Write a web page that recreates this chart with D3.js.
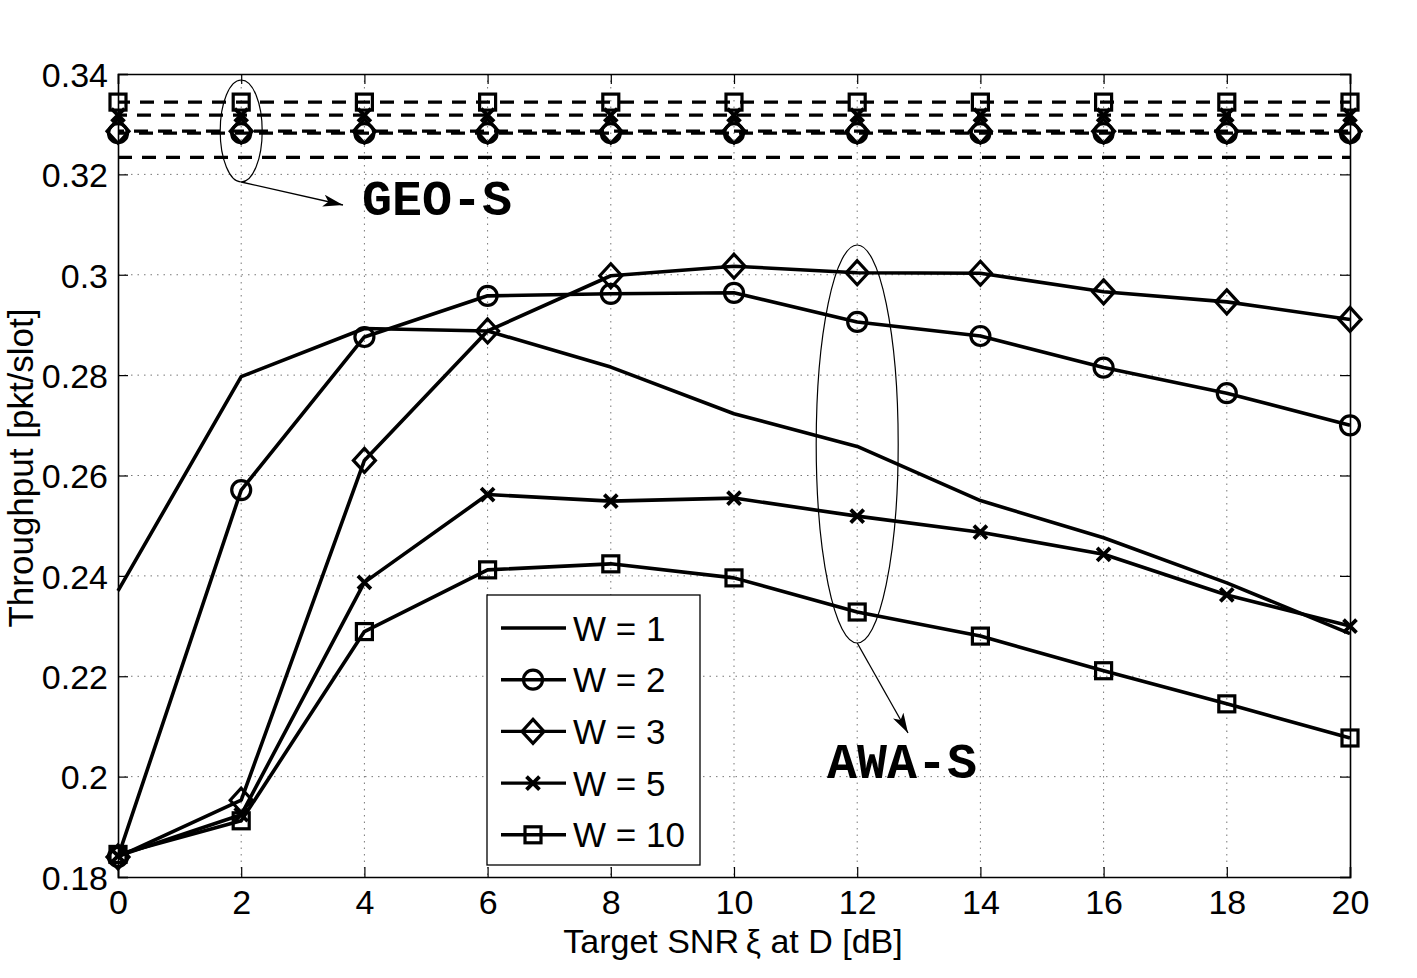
<!DOCTYPE html>
<html><head><meta charset="utf-8">
<script src="https://cdn.jsdelivr.net/npm/d3@7"></script>
<style>body{margin:0;background:#fff}svg{display:block}</style>
</head><body>
<svg id="c" width="1417" height="978"></svg>
<script>
const snr = [0,2,4,6,8,10,12,14,16,18,20];
const xTicks = [0,2,4,6,8,10,12,14,16,18,20];
const yTicks = [0.18,0.2,0.22,0.24,0.26,0.28,0.3,0.32,0.34];
const yTickLabels = ["0.18","0.2","0.22","0.24","0.26","0.28","0.3","0.32","0.34"];
const seriesNames = ["W = 1","W = 2","W = 3","W = 5","W = 10"];
const seriesMarkers = ["none","circle","diamond","x","square"];
const awaW1  = [0.2370,0.2797,0.2893,0.2888,0.2816,0.2723,0.2658,0.2550,0.2476,0.2386,0.2285];
const awaW2  = [0.1840,0.2571,0.2876,0.2958,0.2962,0.2964,0.2906,0.2878,0.2815,0.2764,0.2700];
const awaW3  = [0.1840,0.1953,0.2630,0.2888,0.2998,0.3017,0.3004,0.3003,0.2966,0.2946,0.2911];
const awaW5  = [0.1842,0.1924,0.2387,0.2562,0.2549,0.2555,0.2519,0.2487,0.2443,0.2362,0.2300];
const awaW10 = [0.1845,0.1912,0.2289,0.2412,0.2424,0.2396,0.2328,0.2280,0.2211,0.2145,0.2077];
const geoW1 = 0.3234, geoW2 = 0.3282, geoW3 = 0.3286, geoW5 = 0.3318, geoW10 = 0.3344;

const awa = [awaW1,awaW2,awaW3,awaW5,awaW10];
const geo = [geoW1,geoW2,geoW3,geoW5,geoW10];

const svg = d3.select("#c");
const L=118,R=1350,T=74,B=877;
const x = d3.scaleLinear().domain([0,20]).range([L,R]);
const y = d3.scaleLinear().domain([0.18,0.34]).range([B,T]);
const font = "'Liberation Sans', Arial, Helvetica, sans-serif";

// grid
const g = svg.append("g");
g.selectAll(".gx").data(xTicks.slice(1,-1)).enter().append("line")
 .attr("x1",d=>x(d)).attr("x2",d=>x(d)).attr("y1",T).attr("y2",B)
 .attr("stroke","#777").attr("stroke-width",1).attr("stroke-dasharray","1.5,5");
g.selectAll(".gy").data(yTicks.slice(1,-1)).enter().append("line")
 .attr("y1",d=>y(d)).attr("y2",d=>y(d)).attr("x1",L).attr("x2",R)
 .attr("stroke","#777").attr("stroke-width",1).attr("stroke-dasharray","1.5,5");

// axes
const ax = svg.append("g").attr("transform",`translate(0,${B})`)
 .call(d3.axisBottom(x).tickValues(xTicks).tickSize(-10).tickPadding(13).tickFormat(d3.format("d")));
const axT = svg.append("g").attr("transform",`translate(0,${T})`)
 .call(d3.axisTop(x).tickValues(xTicks).tickSize(-10).tickFormat(""));
const ay = svg.append("g").attr("transform",`translate(${L},0)`)
 .call(d3.axisLeft(y).tickValues(yTicks).tickSize(-10).tickPadding(10).tickFormat((d,i)=>yTickLabels[i]));
const ayR = svg.append("g").attr("transform",`translate(${R},0)`)
 .call(d3.axisRight(y).tickValues(yTicks).tickSize(-10).tickFormat(""));
[ax,axT,ay,ayR].forEach(a=>{
  a.selectAll("path").attr("stroke","#000").attr("stroke-width",1.6);
  a.selectAll("line").attr("stroke","#000").attr("stroke-width",1.2);
  a.selectAll("text").attr("font-family",font).attr("font-size",34).attr("fill","#000");
});
ay.selectAll("text").attr("dy","0.36em");

// markers
function marker(sel, type, cx, cy){
  const s = sel.append("g").attr("transform",`translate(${cx},${cy})`)
    .attr("fill","none").attr("stroke","#000").attr("stroke-width",3.2);
  if(type==="circle") s.append("circle").attr("r",9.5);
  else if(type==="diamond") s.append("path").attr("d","M0,-12L11,0L0,12L-11,0Z");
  else if(type==="square") s.append("rect").attr("x",-8).attr("y",-8).attr("width",16).attr("height",16);
  else if(type==="x") s.append("path").attr("d","M-6.5,-6.5L6.5,6.5M-6.5,6.5L6.5,-6.5").attr("stroke-width",3.8);
}

// GEO-S dashed lines
const dashOff = [0,3,8,5,2];
geo.forEach((v,i)=>{
  svg.append("line").attr("x1",x(0)).attr("x2",x(20)).attr("y1",y(v)).attr("y2",y(v))
   .attr("stroke","#000").attr("stroke-width",3.2).attr("stroke-dasharray","14,10")
   .attr("stroke-dashoffset",dashOff[i]);
  if(seriesMarkers[i]!=="none") snr.forEach(s=>marker(svg,seriesMarkers[i],x(s),y(v)));
});

// AWA-S solid lines
const line = d3.line().x((d,i)=>x(snr[i])).y(d=>y(d));
awa.forEach((vals,i)=>{
  svg.append("path").attr("d",line(vals)).attr("fill","none").attr("stroke","#000")
   .attr("stroke-width",3.6).attr("stroke-linejoin","round");
  if(seriesMarkers[i]!=="none") vals.forEach((v,j)=>marker(svg,seriesMarkers[i],x(snr[j]),y(v)));
});

// annotations
const defs = svg.append("defs");
defs.append("marker").attr("id","arr").attr("viewBox","0 0 20 12").attr("refX",20).attr("refY",6)
 .attr("markerWidth",20).attr("markerHeight",12).attr("markerUnits","userSpaceOnUse").attr("orient","auto")
 .append("path").attr("d","M0,0L20,6L0,12L5,6Z").attr("fill","#000");

const mono = "'Liberation Mono', 'Courier New', monospace";
svg.append("ellipse").attr("cx",x(2)).attr("cy",131).attr("rx",21).attr("ry",51)
 .attr("fill","none").attr("stroke","#000").attr("stroke-width",1.2);
svg.append("line").attr("x1",x(2)).attr("y1",182).attr("x2",343).attr("y2",205)
 .attr("stroke","#000").attr("stroke-width",1.3).attr("marker-end","url(#arr)");
svg.append("text").attr("x",362).attr("y",215).text("GEO-S")
 .attr("font-family",mono).attr("font-weight","bold").attr("font-size",50).attr("fill","#000");

svg.append("ellipse").attr("cx",x(12)).attr("cy",444).attr("rx",41).attr("ry",199)
 .attr("fill","none").attr("stroke","#000").attr("stroke-width",1.2);
svg.append("line").attr("x1",x(12)).attr("y1",643).attr("x2",908).attr("y2",733)
 .attr("stroke","#000").attr("stroke-width",1.3).attr("marker-end","url(#arr)");
svg.append("text").attr("x",827).attr("y",778).text("AWA-S")
 .attr("font-family",mono).attr("font-weight","bold").attr("font-size",50).attr("fill","#000");

// legend
const lg = svg.append("g");
lg.append("rect").attr("x",487).attr("y",595).attr("width",213).attr("height",270)
 .attr("fill","#fff").attr("stroke","#000").attr("stroke-width",1.3);
seriesNames.forEach((n,i)=>{
  const yy = 628 + i*51.7;
  lg.append("line").attr("x1",501).attr("x2",566).attr("y1",yy).attr("y2",yy)
   .attr("stroke","#000").attr("stroke-width",3.4);
  if(seriesMarkers[i]!=="none") marker(lg,seriesMarkers[i],533,yy);
  lg.append("text").attr("x",573).attr("y",yy).attr("dy","0.36em").text(n)
   .attr("font-family",font).attr("font-size",35).attr("fill","#000");
});

// axis labels
svg.append("text").attr("x",733).attr("y",953).attr("text-anchor","middle")
 .text("Target SNR\u2009\u03BE at D [dB]").attr("font-family",font).attr("font-size",34).attr("fill","#000");
svg.append("text").attr("transform","translate(33,468) rotate(-90)").attr("text-anchor","middle")
 .text("Throughput [pkt/slot]").attr("font-family",font).attr("font-size",35).attr("fill","#000");
</script>
</body></html>
